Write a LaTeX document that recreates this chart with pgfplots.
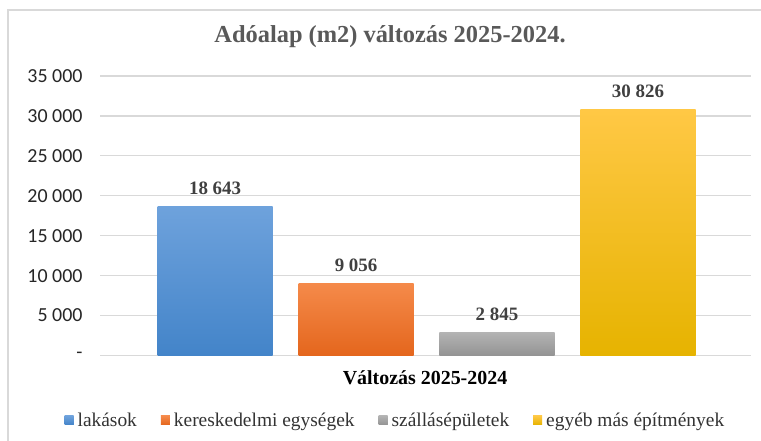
\documentclass[border=0pt]{standalone}
\usepackage{fontspec}
\setmainfont{Liberation Serif}
\newfontfamily\tickfont{Carlito}
\usepackage{pgfplots}
\pgfplotsset{compat=1.18}
\definecolor{bT}{HTML}{6EA2DC}\definecolor{bB}{HTML}{4384C9}
\definecolor{oT}{HTML}{F58A4A}\definecolor{oB}{HTML}{E4661D}
\definecolor{gT}{HTML}{B3B3B3}\definecolor{gB}{HTML}{939393}
\definecolor{yT}{HTML}{FFC845}\definecolor{yB}{HTML}{E6B300}
\definecolor{lb}{HTML}{5B9BD5}\definecolor{lo}{HTML}{ED7D31}
\definecolor{lg}{HTML}{A5A5A5}\definecolor{ly}{HTML}{FFC000}
\definecolor{frame}{HTML}{D9D9D9}
\definecolor{txt}{HTML}{404040}
\definecolor{ttl}{HTML}{595959}
\begin{document}
\begin{tikzpicture}[x=1bp,y=1bp]
\path[use as bounding box,fill=white] (0,0) rectangle (761,441);
\draw[frame, line width=2bp] (8,0) -- (8,431) -- (761,431);
\begin{axis}[
  at={(100bp,85.5bp)}, anchor=south west,
  scale only axis, width=650.7bp, height=279.5bp,
  xmin=-0.8167, xmax=3.8, ymin=0, ymax=35000,
  scaled y ticks=false,
  axis line style={draw=none}, tick style={draw=none},
  xtick=\empty,
  ytick={0,5000,10000,15000,20000,25000,30000,35000},
  yticklabels={{-\hspace{10bp}},{5 000},{10 000},{15 000},{20 000},{25 000},{30 000},{35 000}},
  yticklabel style={font=\tickfont\fontsize{20}{20}\selectfont, text=black!85, anchor=east, xshift=-14bp},
  ymajorgrids, grid style={frame, line width=1.3bp},
  title={Adóalap (m2) változás 2025-2024.},
  title style={font=\bfseries\fontsize{24.5}{24.5}\selectfont, text=ttl, at={(axis description cs:0.4457,1.100)}, anchor=base},
  xlabel={Változás 2025-2024},
  xlabel style={font=\bfseries\fontsize{20}{20}\selectfont, text=black, at={(axis description cs:0.4995,0)}, anchor=center, yshift=-22.5bp},
  ybar, bar width=0.8167, bar shift=0pt,
  point meta=explicit symbolic,
  nodes near coords,
  nodes near coords style={font=\bfseries\fontsize{19}{19}\selectfont, text=txt, anchor=center, yshift=18bp},
  legend columns=4,
  legend style={at={(axis description cs:0.454,-0.232)}, anchor=center, draw=none, fill=none,
    font=\fontsize{19.5}{19.5}\selectfont, text=black!80, inner sep=0pt,
    /tikz/every even column/.append style={column sep=22bp}},
]
\addplot[draw=none, top color=bT, bottom color=bB,
  legend image code/.code={\fill[lb] (0bp,-4.5bp) rectangle (9bp,4.5bp); \path (0bp,0bp) -- (11bp,0bp);}]
  coordinates {(0,18643) [18 643]};
\addlegendentry{lakások}
\addplot[draw=none, top color=oT, bottom color=oB,
  legend image code/.code={\fill[lo] (0bp,-4.5bp) rectangle (9bp,4.5bp); \path (0bp,0bp) -- (11bp,0bp);}]
  coordinates {(1,9056) [9 056]};
\addlegendentry{kereskedelmi egységek}
\addplot[draw=none, top color=gT, bottom color=gB,
  legend image code/.code={\fill[lg] (0bp,-4.5bp) rectangle (9bp,4.5bp); \path (0bp,0bp) -- (11bp,0bp);}]
  coordinates {(2,2845) [2 845]};
\addlegendentry{szállásépületek}
\addplot[draw=none, top color=yT, bottom color=yB,
  legend image code/.code={\fill[ly] (0bp,-4.5bp) rectangle (9bp,4.5bp); \path (0bp,0bp) -- (11bp,0bp);}]
  coordinates {(3,30826) [30 826]};
\addlegendentry{egyéb más építmények}
\end{axis}
\end{tikzpicture}
\end{document}
